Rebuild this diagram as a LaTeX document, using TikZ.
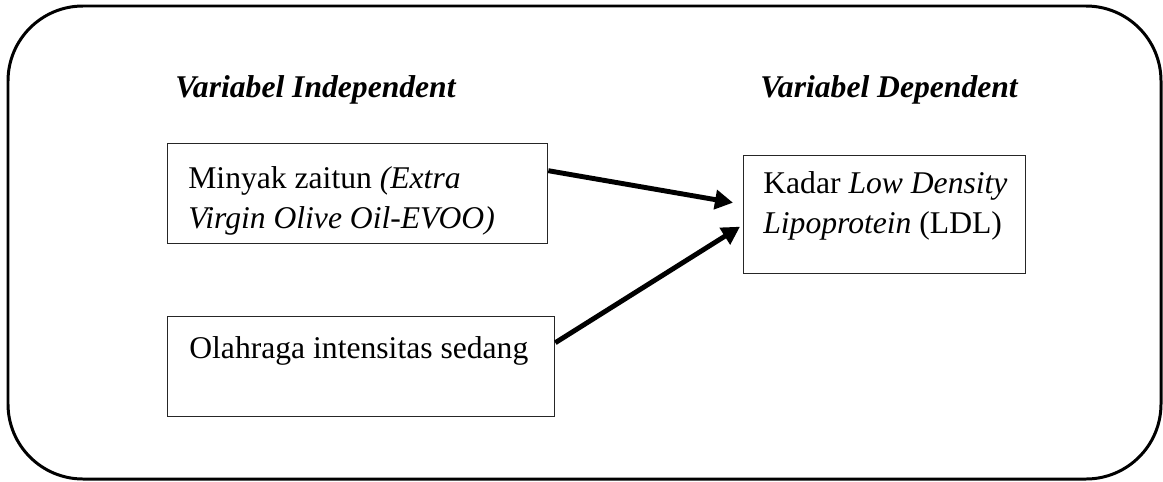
\documentclass[tikz,border=0pt]{standalone}
\usepackage{fontspec}
\setmainfont{Liberation Serif}
\usetikzlibrary{arrows.meta}
\tikzset{
	kotak/.style={draw=black!85,line width=0.8pt,anchor=north west,inner sep=0pt},
	teks/.style={anchor=base west,inner sep=0pt,align=left,font=\fontsize{18}{22.7}\selectfont},
	judul/.style={anchor=base west,inner sep=0pt,font=\fontsize{18}{22.7}\selectfont\bfseries\itshape},
	panah/.style={line width=2.8pt,-{Triangle[length=0.36cm,width=0.38cm]}}
}
\begin{document}
\begin{tikzpicture}[x=0.02cm,y=-0.02cm]
	\useasboundingbox (0,0) rectangle (1163,481);
	\draw[line width=1.7pt,rounded corners=1.5cm] (8,6) rectangle (1161,479);

	\node[judul] (indep) at (175,97) {Variabel Independent};
	\node[judul] (dep) at (760,97) {Variabel Dependent};

	\node[kotak,minimum width=7.6cm,minimum height=2cm] (evoo) at (167,143) {};
	\node[teks] (evootxt) at (188,228) {Minyak zaitun \textit{(Extra}\\\textit{Virgin Olive Oil-EVOO)}};

	\node[kotak,minimum width=7.74cm,minimum height=2cm] (olahraga) at (167,316) {};
	\node[teks] (olahragatxt) at (189,358) {Olahraga intensitas sedang};

	\node[kotak,minimum width=5.64cm,minimum height=2.36cm] (ldl) at (743,155) {};
	\node[teks] (ldltxt) at (763,233) {Kadar \textit{Low Density}\\\textit{Lipoprotein} (LDL)};

	\draw[panah] ([yshift=0.46cm]evoo.east) -- ([xshift=-0.2cm,yshift=0.24cm]ldl.west);
	\draw[panah] ([yshift=0.48cm]olahraga.east) -- ([xshift=-0.06cm,yshift=-0.24cm]ldl.west);
\end{tikzpicture}
\end{document}
